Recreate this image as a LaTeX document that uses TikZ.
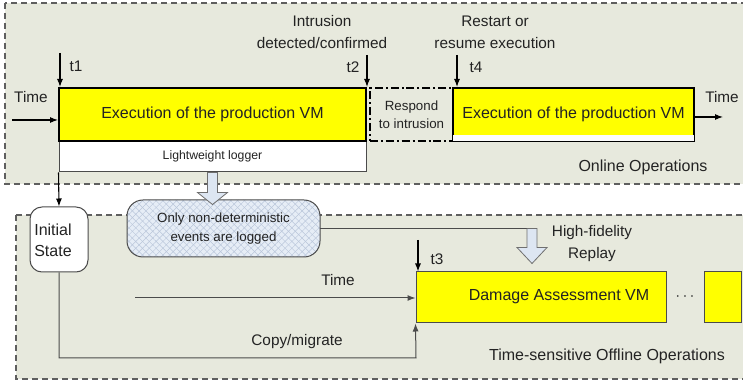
\documentclass[tikz,border=0pt]{standalone}
\usepackage{fontspec}
\setmainfont{Liberation Sans}
\usetikzlibrary{arrows.meta,calc,patterns.meta}

\definecolor{panelbg}{RGB}{231,233,221}
\definecolor{panelline}{RGB}{95,95,95}
\definecolor{vmyellow}{RGB}{255,255,0}
\definecolor{txt}{RGB}{35,35,35}
\definecolor{hatchbg}{RGB}{230,237,246}
\definecolor{hatchln}{RGB}{185,198,218}
\definecolor{blockfill}{RGB}{221,230,242}
\definecolor{edge}{RGB}{75,75,75}

\begin{document}
\begin{tikzpicture}[x=0.75pt,y=-0.75pt,
  every node/.style={text=txt, font=\fontsize{11.5}{16.5}\selectfont},
  sz/.style 2 args={minimum width=#1*0.75pt, minimum height=#2*0.75pt, inner sep=0pt},
  panel/.style={draw=panelline, fill=panelbg, dash pattern=on 4.5pt off 3pt, line width=0.8pt},
  areatitle/.style={font=\fontsize{12}{14}\selectfont},
  prodvm/.style={draw=black, fill=vmyellow, line width=1.5pt,
    font=\fontsize{12}{14}\selectfont},
  logbox/.style={draw=edge, fill=white, line width=0.75pt,
    font=\fontsize{9.2}{11}\selectfont},
  respbox/.style={draw=black, line width=1.4pt,
    dash pattern=on 6pt off 2.2pt on 1.5pt off 2.2pt, align=center,
    font=\fontsize{10}{13.5}\selectfont},
  dambox/.style={draw=edge, fill=vmyellow, line width=0.75pt},
  statebox/.style={draw=edge, fill=white, line width=0.75pt, rounded corners=9pt},
  hatchbox/.style={rounded corners=12pt, align=center,
    font=\fontsize{10}{14.3}\selectfont,
    preaction={fill=hatchbg},
    pattern={Lines[angle=45,distance=3.6pt,line width=0.35pt]}, pattern color=hatchln,
    postaction={pattern={Lines[angle=-45,distance=3.6pt,line width=0.35pt]}, pattern color=hatchln},
    postaction={draw=edge, line width=0.75pt}},
  line/.style={draw=edge, line width=0.75pt},
  arr/.style={draw=black, line width=0.8pt, -{Latex[length=6pt,width=4.5pt]}},
  blockarrow/.style={draw=edge!80, fill=blockfill, line width=0.6pt, line join=miter},
]
\useasboundingbox (0,0) rectangle (743,384);

% the two operation areas
\draw[panel] (5,3) rectangle (750,184);
\draw[panel] (16,215) rectangle (750,379);

% ---- online operations ----
\node[logbox, sz={307}{31}] (log) at (212.5,156.5) {Lightweight logger};
\node[respbox, sz={83}{53}] (resp) at (411.5,114.5) {Respond\\to intrusion};
\node[prodvm, sz={307}{53}] (vm1) at (212.5,114.5) {Execution of the production VM};
\node[prodvm, sz={241}{53}] (vm2) at (573.5,114.5) {Execution of the production VM};
\fill[white!88!panelbg] ($(vm2.south west)+(1,-7)$) rectangle ($(vm2.south east)+(-1,-1)$);

\coordinate (tin) at (12,120);
\draw[arr] (tin) -- (tin -| vm1.west);
\node (timeL) at (31,97) {Time};

\coordinate (t1top) at (60,53);
\draw[arr] (t1top) -- (t1top |- vm1.north);
\node (t1) at (76,66) {t1};

\coordinate (t2top) at (367,55);
\draw[arr] (t2top) -- (t2top |- vm1.north);
\node (t2) at (353,67) {t2};
\node[align=center] (intr) at (322,32) {Intrusion\\detected/confirmed};

\coordinate (t4top) at (457,55);
\draw[arr] (t4top) -- (t4top |- vm2.north);
\node (t4) at (476,67) {t4};
\node[align=center] (restart) at (495,32) {Restart or\\resume execution};

\coordinate (tout) at (723,117);
\draw[arr] (vm2.east |- tout) -- (tout);
\node (timeR) at (722,97) {Time};

\node[areatitle] (online) at (643,167) {Online Operations};

% ---- offline operations ----
\node[statebox, sz={58}{65}] (init) at (59,239.5) {};
\node[align=left, font=\fontsize{12}{16}\selectfont] (initlbl) at ($(init.center)+(-6,1)$) {Initial\\State};

\node[hatchbox, sz={193}{57}] (hatch) at (223.5,228.5) {Only non-deterministic\\events are logged};

\draw[arr] (log.south west) -- (init.north);

\draw[blockarrow] ($(log.south)+(-5,0)$) -- ++(0,20) -- ++(-10,0) -- ++(15,12)
  -- ++(15,-12) -- ++(-10,0) -- ++(0,-20) -- cycle;

\coordinate (rtop) at (532,228.5);
\draw[line] (hatch.east |- rtop) -- ($(rtop)+(5,0)$);
\draw[blockarrow] ($(rtop)+(-5,0)$) -- ++(0,19) -- ++(-10,0) -- ++(15,16)
  -- ++(15,-16) -- ++(-10,0) -- ++(0,-19) -- cycle;
\node[align=center] (hifi) at (592,244) {High-fidelity\\Replay};

\node[dambox, sz={250}{51}] (dam) at (541,297.5) {};
\node[font=\fontsize{12}{14}\selectfont] (damlbl) at (559,297) {Damage Assessment VM};
\node (dots) at (685,297) {$\cdots$};
\node[dambox, sz={37}{51}] (dam2) at (722.5,297.5) {};

\coordinate (t3top) at (418,240);
\draw[arr] (t3top) -- (t3top |- dam.north);
\node (t3) at (437,259) {t3};

\coordinate (tb) at (135,298);
\draw[line, -{Latex[length=6pt,width=4.5pt]}] (tb) -- (tb -| dam.west);
\node (timeB) at (338,280) {Time};

\coordinate (cm) at (416,358);
\draw[line, -{Latex[length=6pt,width=4.5pt]}] (init.south) |- (cm) -- (dam.south west);
\node (copy) at (297,342) {Copy/migrate};

\node[areatitle] (offline) at (607,356) {Time-sensitive Offline Operations};
\end{tikzpicture}
\end{document}
